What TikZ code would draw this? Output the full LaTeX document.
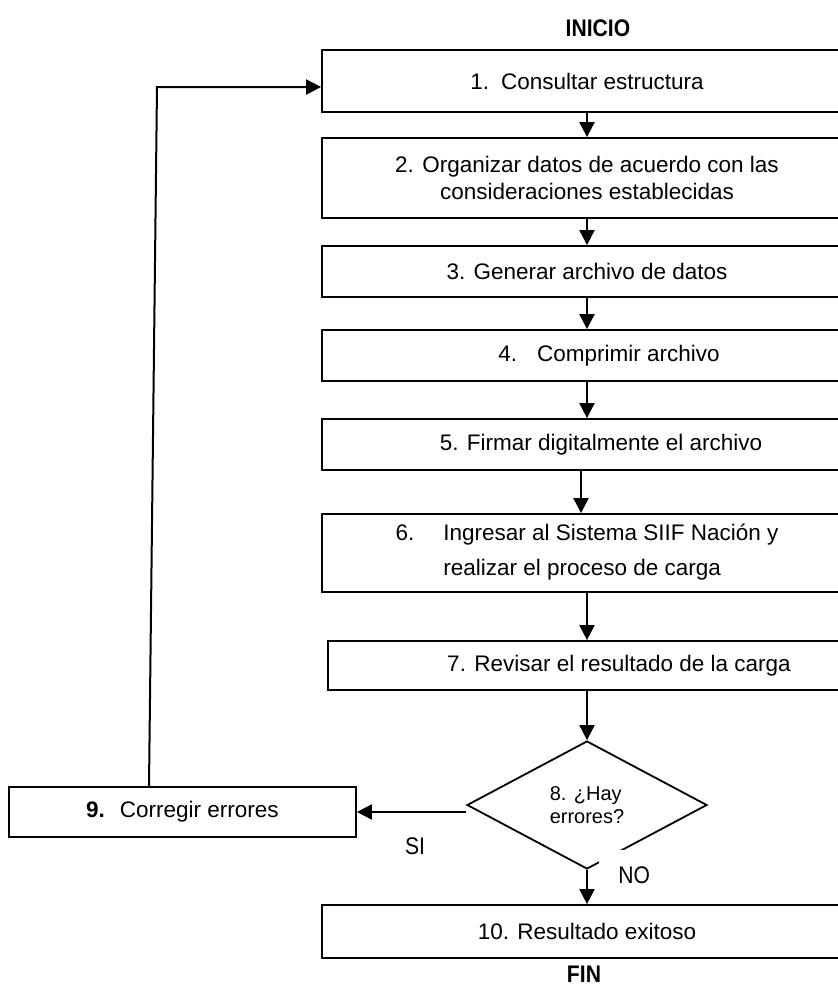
\documentclass[tikz,border=0pt]{standalone}
\usepackage{fontspec}
\setmainfont{Liberation Sans}
\usetikzlibrary{arrows.meta, positioning, shapes.geometric}
\newcommand{\narrowtext}[1]{\scalebox{0.88}[1]{#1}}
\tikzset{x = 0.5pt, y = -0.5pt,
         node distance = 2cm, on grid,
         >= {Triangle[length = 7.5pt, width = 7.5pt]},
         stepbox/.style = {draw, line width = 0.9pt,
                           minimum width = 265pt, inner sep = 2pt,
                           font = \fontsize{11.25}{13.5}\selectfont,
                           align = center},
         decision/.style = {diamond, draw, line width = 0.9pt,
                            aspect = 1.875, minimum width = 120pt,
                            minimum height = 64pt, inner sep = 0pt,
                            font = \fontsize{10}{11.5}\selectfont,
                            align = left},
         endpoint/.style = {font = \fontsize{12}{14}\selectfont\bfseries},
         answer/.style = {font = \fontsize{12}{14}\selectfont},
         arr/.style = {->, line width = 1pt}}

\begin{document}
\begin{tikzpicture}
        \useasboundingbox (0,0) rectangle (838,987);
        \clip (0,0) rectangle (838,987);

        \node[stepbox, minimum height = 31pt]   (b1) at (587,81) {1.\hspace{6pt}Consultar estructura};
        \node[stepbox, minimum height = 40pt]   (b2) [below = 48.5pt of b1]  {2. Organizar datos de acuerdo con las\\consideraciones establecidas};
        \node[stepbox, minimum height = 25.5pt] (b3) [below = 46.75pt of b2] {3. Generar archivo de datos};
        \node[stepbox, minimum height = 25.5pt] (b4) [below = 42pt of b3]    {\hspace*{22pt}4.\hspace{10pt}Comprimir archivo};
        \node[stepbox, minimum height = 25.5pt] (b5) [below = 44.5pt of b4]  {\hspace*{14pt}5. Firmar digitalmente el archivo};
        \node[stepbox, minimum height = 39pt]   (b6) [below = 54.25pt of b5] {\begin{tabular}{@{}l@{\hspace{14.5pt}}l@{}}6. & Ingresar al Sistema SIIF Nación y\\[4pt] & realizar el proceso de carga\end{tabular}};
        \node[stepbox, minimum height = 24.5pt, minimum width = 262pt]
                                                (b7) [below = 56.25pt of b6, xshift = 1.5pt] {\hspace*{29pt}7. Revisar el resultado de la carga};
        \node[decision]                         (d)  [below = 69.75pt of b7, xshift = -1.5pt] {8. ¿Hay\\errores?};
        \node[stepbox, minimum width = 173.5pt, minimum height = 25pt]
                                                (b9) [left = 202.25pt of d, yshift = -3.5pt] {\textbf{9.}\hspace{7.5pt}Corregir errores};
        \node[stepbox, minimum height = 26.5pt] (b10) [below = 63.25pt of d] {10. Resultado exitoso};

        \node[endpoint] (inicio) [above = 26.5pt of b1, xshift = 5.5pt]  {\narrowtext{INICIO}};
        \node[endpoint] (fin)    [below = 21.25pt of b10, xshift = -1.5pt] {\narrowtext{FIN}};
        \node[answer]   (si) at ([xshift = -25.5pt, yshift = -20.5pt]d.west) {\narrowtext{SI}};
        \node[answer, fill = white, inner xsep = 9.5pt, inner ysep = 8pt, anchor = north west]
                        (no) at ([xshift = 6pt, yshift = 10pt]d.south) {\narrowtext{NO}};

        \draw[arr] (b1.south) -- (b2.north);
        \draw[arr] (b2.south) -- (b3.north);
        \draw[arr] (b3.south) -- (b4.north);
        \draw[arr] (b4.south) -- (b5.north);
        \draw[arr] ([xshift = -3pt]b5.south) -- ([xshift = -3pt]b6.north);
        \draw[arr] (b6.south) -- (b6.south |- b7.north);
        \draw[arr] (d.north |- b7.south) -- (d.north);
        \draw[arr] (d.south) -- (b10.north);
        \draw[arr] ([yshift = -3.5pt]d.west) -- (b9.east);

        % back to the start
        \coordinate (turn) at (157,87);
        \draw[arr] ([xshift = -16.75pt]b9.north) -- (turn) -- ([yshift = -3pt]b1.west);
\end{tikzpicture}
\end{document}
